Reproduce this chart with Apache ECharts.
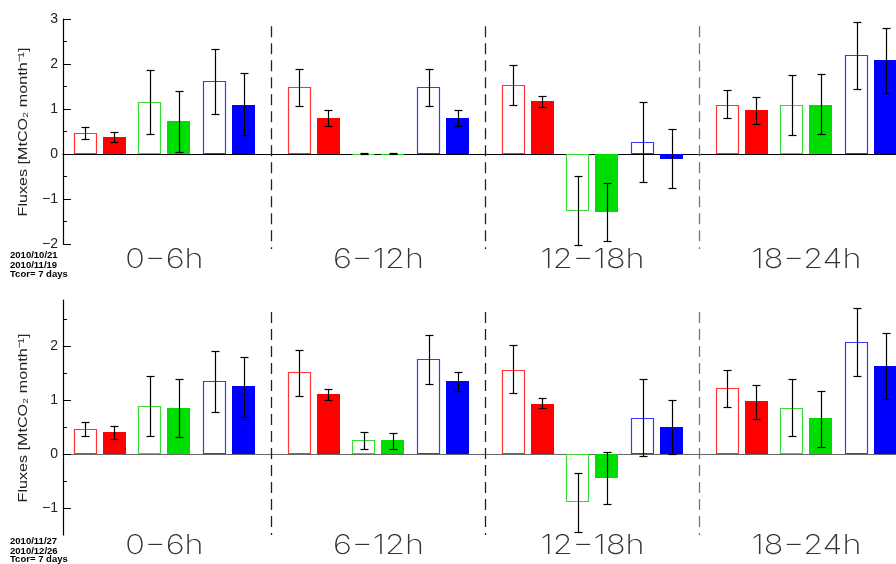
<!DOCTYPE html>
<html>
<head>
<meta charset="utf-8">
<script src="https://cdn.jsdelivr.net/npm/echarts@6/dist/echarts.min.js"></script>
<style>html,body{margin:0;padding:0;background:#fff}#c{width:896px;height:564px}</style>
</head>
<body>
<div id="c"></div>
<script>
// ---------------- DATA ----------------
const CATEGORIES = ['0\u22126h', '6\u221212h', '12\u221218h', '18\u221224h'];
const Y_TICKS_TOP = [-2, -1, 0, 1, 2, 3];
const Y_TICKS_BOTTOM = [-1, 0, 1, 2];
const Y_MINOR_TOP = [-1.5, -0.5, 0.5, 1.5, 2.5];
const Y_MINOR_BOTTOM = [-0.5, 0.5, 1.5, 2.5];
const Y_TITLE = 'Fluxes [MtCO\u2082 month\u207B\u00B9]';
const DATES_TOP = ['2010/10/21', '2010/11/19', 'Tcor= 7 days'];
const DATES_BOTTOM = ['2010/11/27', '2010/12/26', 'Tcor= 7 days'];

// Panel 1 (top)
const p1RedOpen      = [0.46, 1.48, 1.53, 1.10];
const p1RedOpenErr   = [[0.33, 0.59], [1.06, 1.90], [1.10, 1.97], [0.79, 1.42]];
const p1RedFill      = [0.38, 0.80, 1.18, 0.98];
const p1RedFillErr   = [[0.26, 0.50], [0.62, 0.97], [1.04, 1.30], [0.67, 1.26]];
const p1GreenOpen    = [1.16, 0.01, -1.26, 1.10];
const p1GreenOpenErr = [[0.44, 1.87], [0.00, 0.02], [-2.03, -0.48], [0.42, 1.76]];
const p1GreenFill    = [0.73, 0.01, -1.28, 1.10];
const p1GreenFillErr = [[0.04, 1.41], [0.00, 0.02], [-1.93, -0.64], [0.44, 1.78]];
const p1BlueOpen     = [1.62, 1.48, 0.27, 2.20];
const p1BlueOpenErr  = [[0.90, 2.34], [1.06, 1.90], [-0.62, 1.16], [1.45, 2.94]];
const p1BlueFill     = [1.10, 0.80, -0.10, 2.08];
const p1BlueFillErr  = [[0.42, 1.79], [0.62, 0.97], [-0.76, 0.55], [1.36, 2.81]];

// Panel 2 (bottom)
const p2RedOpen      = [0.46, 1.51, 1.56, 1.22];
const p2RedOpenErr   = [[0.33, 0.59], [1.07, 1.93], [1.12, 2.01], [0.87, 1.56]];
const p2RedFill      = [0.40, 1.11, 0.93, 0.98];
const p2RedFillErr   = [[0.27, 0.51], [0.99, 1.20], [0.86, 1.03], [0.65, 1.28]];
const p2GreenOpen    = [0.89, 0.25, -0.89, 0.86];
const p2GreenOpenErr = [[0.34, 1.44], [0.10, 0.41], [-1.44, -0.35], [0.33, 1.38]];
const p2GreenFill    = [0.86, 0.25, -0.44, 0.66];
const p2GreenFillErr = [[0.32, 1.38], [0.10, 0.39], [-0.93, 0.04], [0.13, 1.17]];
const p2BlueOpen     = [1.35, 1.75, 0.67, 2.07];
const p2BlueOpenErr  = [[0.78, 1.91], [1.30, 2.21], [-0.04, 1.38], [1.44, 2.70]];
const p2BlueFill     = [1.25, 1.35, 0.49, 1.62];
const p2BlueFillErr  = [[0.69, 1.80], [1.17, 1.52], [0.00, 0.99], [1.01, 2.23]];

// ---------------- LAYOUT / STYLE ----------------
const COLORS = ['#ff0000', '#00dd00', '#0000ff'];
const OUTLINE = ['#ff3333', '#33dd33', '#3838ff'];
const PAIR_OFF = [-0.302, 0, 0.302];
const BAR_OFF = [-0.068, 0.068];
const BAR_W = 0.1075;
const CAP = 4;
const X_MIN = 0.026, X_MAX = 3.9185;
const P1_RANGE = [-2, 3];
const P2_RANGE = [-1.5, 2.85];
const P1_DIV = [-2.11, 2.84];
const P2_DIV = [-1.5, 2.63];

function buildPanel(series) {
  const out = [];
  for (let g = 0; g < CATEGORIES.length; g++) {
    series.forEach(function (s, i) {
      const pair = Math.floor(i / 2), filled = i % 2;
      const x = g + 0.5 + PAIR_OFF[pair] + BAR_OFF[filled];
      out.push([x, s[0][g], s[1][g][0], s[1][g][1], pair, filled]);
    });
  }
  return out;
}
const p1Data = buildPanel([[p1RedOpen, p1RedOpenErr], [p1RedFill, p1RedFillErr], [p1GreenOpen, p1GreenOpenErr], [p1GreenFill, p1GreenFillErr], [p1BlueOpen, p1BlueOpenErr], [p1BlueFill, p1BlueFillErr]]);
const p2Data = buildPanel([[p2RedOpen, p2RedOpenErr], [p2RedFill, p2RedFillErr], [p2GreenOpen, p2GreenOpenErr], [p2GreenFill, p2GreenFillErr], [p2BlueOpen, p2BlueOpenErr], [p2BlueFill, p2BlueFillErr]]);

function renderBar(params, api) {
  const x = api.value(0), v = api.value(1), lo = api.value(2), hi = api.value(3);
  const ci = api.value(4), filled = api.value(5) === 1;
  const a = api.coord([x - BAR_W / 2, v]);
  const b = api.coord([x + BAR_W / 2, 0]);
  const left = Math.round(Math.min(a[0], b[0])), right = Math.round(Math.max(a[0], b[0]));
  const top = Math.round(Math.min(a[1], b[1])), bot = Math.round(Math.max(a[1], b[1]));
  const children = [];
  if (filled) {
    children.push({ type: 'rect', shape: { x: left, y: top, width: right - left, height: Math.max(bot - top, 1) }, style: { fill: COLORS[ci] } });
  } else {
    children.push({ type: 'rect', shape: { x: left + 0.5, y: top + 0.5, width: right - left - 1, height: Math.max(bot - top - 1, 0) }, style: { fill: '#fff', stroke: OUTLINE[ci], lineWidth: 1.2 } });
  }
  const pl = api.coord([x, lo]), ph = api.coord([x, hi]);
  const cx = Math.round(pl[0]) + 0.5;
  const ys = [Math.round(pl[1]) + 0.5, Math.round(ph[1]) + 0.5];
  const es = { stroke: '#000', lineWidth: 1.2 };
  children.push({ type: 'line', shape: { x1: cx, y1: ys[0], x2: cx, y2: ys[1] }, style: es });
  children.push({ type: 'line', shape: { x1: cx - CAP, y1: ys[0], x2: cx + CAP, y2: ys[0] }, style: es });
  children.push({ type: 'line', shape: { x1: cx - CAP, y1: ys[1], x2: cx + CAP, y2: ys[1] }, style: es });
  return { type: 'group', children: children };
}

function makeDivider(range) {
  return function (params, api) {
    const x = api.value(0);
    const a = api.coord([x, range[1]]), b = api.coord([x, range[0]]);
    const px = Math.round(a[0]) + 0.5;
    return { type: 'line', shape: { x1: px, y1: a[1], x2: px, y2: b[1] },
      style: { stroke: params.dataIndex === 2 ? '#777' : '#222', lineWidth: 1.3, lineDash: [11, 6] } };
  };
}

function makeLabel(yMin, dy) {
  return function (params, api) {
    const p = api.coord([api.value(0), yMin]);
    return { type: 'text', x: p[0], y: p[1] + dy, scaleX: 1.2, scaleY: 1,
      style: { text: CATEGORIES[params.dataIndex], x: 0, y: 0, fill: '#333', font: '200 27px Inter, "Open Sans", Roboto', align: 'center', verticalAlign: 'middle' } };
  };
}

const dividerData = [[1, 0], [2, 0], [3, 0]];
const labelData = CATEGORIES.map(function (c, i) { return [i + 0.5, 0]; });

function yMain(grid, range, ticks) {
  return {
    gridIndex: grid, type: 'value', min: range[0], max: range[1],
    axisLine: { show: true, lineStyle: { color: '#000', width: 1.2 } },
    axisTick: { show: true, inside: true, length: 8, customValues: ticks, lineStyle: { color: '#000' } },
    axisLabel: { show: true, customValues: ticks, margin: 5, fontSize: 14, color: '#222', fontFamily: 'Liberation Sans',
      formatter: function (v) { return String(v).replace('-', '\u2212'); } },
    splitLine: { show: false }
  };
}
function yMinor(grid, range, ticks) {
  return {
    gridIndex: grid, type: 'value', min: range[0], max: range[1], position: 'left',
    axisLine: { show: false },
    axisTick: { show: true, inside: true, length: 4, customValues: ticks, lineStyle: { color: '#000' } },
    axisLabel: { show: false }, splitLine: { show: false }
  };
}
function xAx(grid, color) {
  return {
    gridIndex: grid, type: 'value', min: X_MIN, max: X_MAX,
    axisLine: { show: true, onZero: true, onZeroAxisIndex: grid * 2, lineStyle: { color: color, width: 1.2 } },
    axisTick: { show: false }, axisLabel: { show: false }, splitLine: { show: false }
  };
}

function dateTexts(lines, ys) {
  return lines.map(function (t, i) {
    return { type: 'text', x: 10, y: ys[i], scaleX: 1.12, style: { text: t, font: 'bold 8.5px "Liberation Sans"', fill: '#000', verticalAlign: 'middle' } };
  });
}
function yTitle(cy) {
  return { type: 'text', x: 23, y: cy, rotation: Math.PI / 2, scaleX: 1.24,
    style: { text: Y_TITLE, font: '13px "Liberation Sans"', fill: '#222', align: 'center', verticalAlign: 'middle' } };
}

const option = {
  animation: false,
  backgroundColor: '#fff',
  grid: [
    { left: 63, right: 0, top: 19, height: 225 },
    { left: 63, right: 0, top: 300, height: 235 }
  ],
  xAxis: [xAx(0, '#000'), xAx(1, '#666')],
  yAxis: [
    yMain(0, P1_RANGE, Y_TICKS_TOP), yMinor(0, P1_RANGE, Y_MINOR_TOP),
    yMain(1, P2_RANGE, Y_TICKS_BOTTOM), yMinor(1, P2_RANGE, Y_MINOR_BOTTOM)
  ],
  graphic: dateTexts(DATES_TOP, [255.5, 266, 274.5]).concat(dateTexts(DATES_BOTTOM, [542, 552, 559.5]))
    .concat([yTitle(132), yTitle(418)]),
  series: [
    { type: 'custom', xAxisIndex: 0, yAxisIndex: 0, data: p1Data, renderItem: renderBar, clip: false, z: 3 },
    { type: 'custom', xAxisIndex: 1, yAxisIndex: 2, data: p2Data, renderItem: renderBar, clip: false, z: 3 },
    { type: 'custom', xAxisIndex: 0, yAxisIndex: 0, data: dividerData, renderItem: makeDivider(P1_DIV), clip: false },
    { type: 'custom', xAxisIndex: 1, yAxisIndex: 2, data: dividerData, renderItem: makeDivider(P2_DIV), clip: false },
    { type: 'custom', xAxisIndex: 0, yAxisIndex: 0, data: labelData, renderItem: makeLabel(P1_RANGE[0], 16), clip: false },
    { type: 'custom', xAxisIndex: 1, yAxisIndex: 2, data: labelData, renderItem: makeLabel(P2_RANGE[0], 11), clip: false }
  ]
};
const chart = echarts.init(document.getElementById('c'), null, { renderer: 'canvas' });
chart.setOption(option);
</script>
</body>
</html>
